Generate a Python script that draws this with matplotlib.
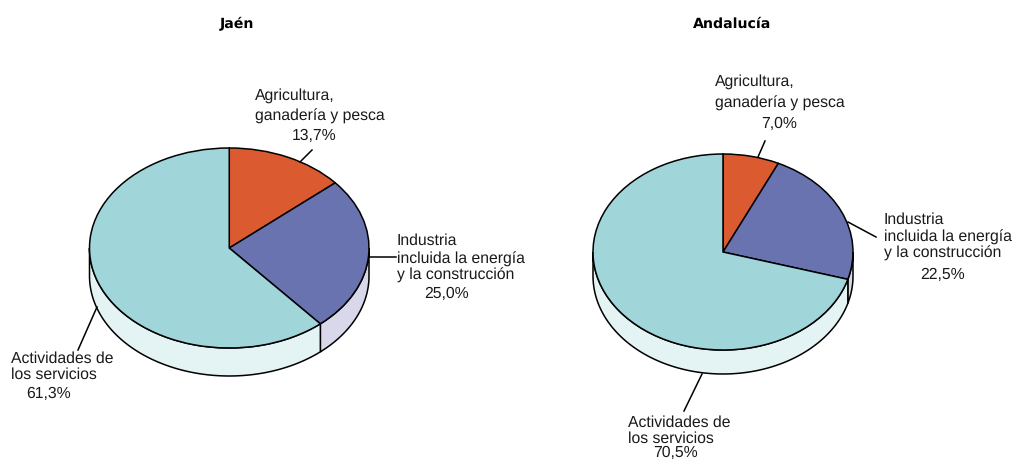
import numpy as np
import matplotlib
matplotlib.use("Agg")
import matplotlib.pyplot as plt

plt.rcParams['font.family'] = ['Liberation Sans', 'DejaVu Sans']
plt.rcParams['text.hinting'] = 'none'

W, H = 1015, 461

sectores = ['Agricultura', 'Industria', 'Servicios']
jaen = [13.7, 25.0, 61.3]
andalucia = [7.0, 22.5, 70.5]
colores = ['#DB5A30', '#6873B0', '#A0D5D9']
colores_lado = ['#F3D5C8', '#D8D8EA', '#E4F3F3']

etiquetas_jaen = [
    ('Agricultura,', 255, 100), ('ganadería y pesca', 255, 121), ('13,7%', 292, 140),
    ('Industria', 397, 245), ('incluida la energía', 397, 264), ('y la construcción', 397, 280), ('25,0%', 424, 298),
    ('Actividades de', 11, 363), ('los servicios', 11, 379), ('61,3%', 26, 398),
]
etiquetas_and = [
    ('Agricultura,', 715, 86), ('ganadería y pesca', 715, 108), ('7,0%', 761, 128),
    ('Industria', 884, 224), ('incluida la energía', 884, 242), ('y la construcción', 884, 258), ('22,5%', 920, 279),
    ('Actividades de', 628, 427), ('los servicios', 628, 443), ('70,5%', 653, 457),
]
guias_jaen = [((300, 162), (312, 150)), ((369, 257), (396, 257)), ((97, 307), (78, 350))]
guias_and = [((758, 157), (765, 141)), ((848, 222), (876, 237)), ((702, 374), (684, 411))]


def tarta(fig, valores, izq, der, arriba, abajo, fondo):
    # el eje va de la elipse superior hasta el fondo del cilindro
    ry = (abajo - arriba)/2
    prof = (fondo - abajo)/ry
    ax = fig.add_axes([izq/W, 1 - fondo/H, (der - izq)/W, (fondo - arriba)/H])
    ax.pie(valores, colors=colores, startangle=90, counterclock=False,
           wedgeprops={'edgecolor': 'black', 'linewidth': 1.1})
    ax.set_aspect('auto')
    ax.set_xlim(-1, 1)
    ax.set_ylim(-1 - prof, 1)
    acum = np.concatenate(([0], np.cumsum(valores)))*3.6
    for i in range(len(valores)):
        a1, a2 = max(acum[i], 90), min(acum[i+1], 270)
        if a1 >= a2:
            continue
        t = np.radians(np.linspace(a1, a2, 100))
        x, y = np.sin(t), np.cos(t)
        ax.fill(np.r_[x, x[::-1]], np.r_[y, y[::-1] - prof], facecolor=colores_lado[i],
                edgecolor='black', linewidth=1.1, zorder=0.5, clip_on=False)
    for p in ax.patches:
        p.set_clip_on(False)
    return ax


def textos(fig, etiquetas, guias):
    for txt, x, y in etiquetas:
        fig.text(x/W, 1 - y/H, txt, fontsize=11.3, color='#1a1a1a', ha='left', va='baseline')
    for (x0, y0), (x1, y1) in guias:
        fig.add_artist(plt.Line2D([x0/W, x1/W], [1 - y0/H, 1 - y1/H], color='black', linewidth=1.1))


if __name__ == "__main__":
    fig = plt.figure(figsize=(W/100, H/100), dpi=100)
    tarta(fig, jaen, 89.5, 369, 148, 348, 376)
    tarta(fig, andalucia, 593, 853, 154, 350, 374)
    textos(fig, etiquetas_jaen, guias_jaen)
    textos(fig, etiquetas_and, guias_and)
    fig.text(237/W, 1 - 28/H, 'Jaén', family='DejaVu Sans', fontsize=10.2, fontweight='bold', ha='center', va='baseline')
    fig.text(732/W, 1 - 28/H, 'Andalucía', family='DejaVu Sans', fontsize=10.2, fontweight='bold', ha='center', va='baseline')
    fig.savefig('out.png', dpi=100)
